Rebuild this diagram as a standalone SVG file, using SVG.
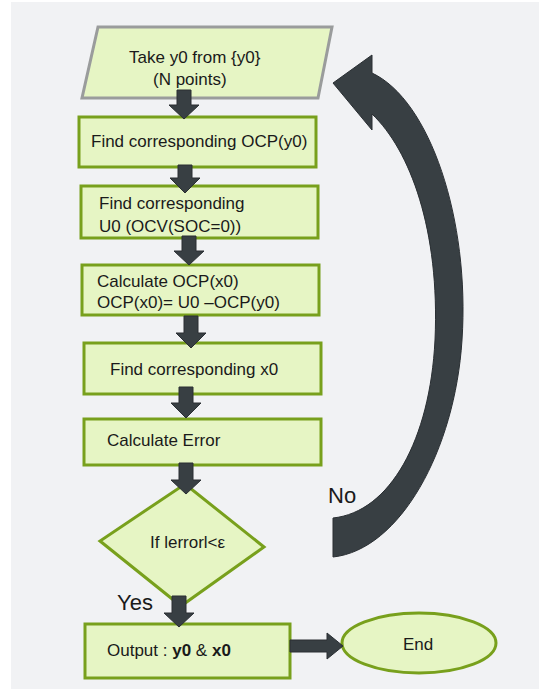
<svg xmlns="http://www.w3.org/2000/svg" width="539" height="689" viewBox="0 0 539 689">
<style>
.node{fill:#e6f5c4;stroke:#78a01c;stroke-width:3}
.io{fill:#e6f5c4;stroke:#9a9c9c;stroke-width:3}
.t{font-family:"Liberation Sans",Arial,sans-serif;font-size:17px;fill:#1a1a1a}
.lbl{font-family:"Liberation Sans",Arial,sans-serif;font-size:22px;fill:#1a1a1a}
.arr{fill:#383f43;stroke:#2a2f33;stroke-width:1;stroke-linejoin:miter}
.b{font-weight:bold}
</style>
<rect x="0" y="0" width="539" height="689" fill="#ffffff"/>
<rect x="11" y="2" width="528" height="687" fill="#f1f2f4"/>
<g id="start">
<polygon class="io" points="98,27 332,27 318,98 82,98"/>
<text class="t" x="129" y="63">Take y0 from {y0}</text>
<text class="t" x="153" y="85">(N points)</text>
</g>
<g id="find-ocp-y0">
<rect class="node" x="79" y="117" width="237" height="50"/>
<text class="t" x="91" y="147">Find corresponding OCP(y0)</text>
</g>
<g id="find-u0">
<rect class="node" x="81" y="186" width="237" height="52"/>
<text class="t" x="99" y="209">Find corresponding</text>
<text class="t" x="99" y="232">U0 (OCV(SOC=0))</text>
</g>
<g id="calc-ocp-x0">
<rect class="node" x="82" y="265" width="237" height="50"/>
<text class="t" x="97" y="287">Calculate OCP(x0)</text>
<text class="t" x="97" y="308">OCP(x0)= U0 –OCP(y0)</text>
</g>
<g id="find-x0">
<rect class="node" x="84" y="343" width="237" height="51"/>
<text class="t" x="110" y="375">Find corresponding x0</text>
</g>
<g id="calc-error">
<rect class="node" x="84" y="419" width="237" height="46"/>
<text class="t" x="107" y="446">Calculate Error</text>
</g>
<g id="decision">
<polygon class="node" points="185,484 264,547 181,606 100,541"/>
<text class="t" x="150" y="548">If lerrorl&lt;ε</text>
</g>
<g id="output">
<rect class="node" x="85" y="624" width="205" height="54"/>
<text class="t" x="107" y="656">Output : <tspan class="b">y0</tspan> &amp; <tspan class="b">x0</tspan></text>
</g>
<g id="end">
<ellipse class="node" cx="419" cy="643" rx="77" ry="30"/>
<text class="t" x="418" y="650" text-anchor="middle">End</text>
</g>
<g id="connectors">
<path class="arr" d="M177,90 H191 V105 H199 L184,119 L169,105 H177 Z"/>
<path class="arr" d="M178,165 H192 V178 H200 L185,193 L170,178 H178 Z"/>
<path class="arr" d="M182,236 H196 V251 H204 L189,265 L174,251 H182 Z"/>
<path class="arr" d="M184,316 H198 V333 H206 L191,348 L176,333 H184 Z"/>
<path class="arr" d="M179,387 H193 V403 H201 L186,418 L171,403 H179 Z"/>
<path class="arr" d="M179,463 H193 V480 H201 L186,494 L171,480 H179 Z"/>
<path class="arr" d="M172,596 H186 V613 H194 L179,627 L164,613 H172 Z"/>
<path class="arr" d="M290,640 V652 H327 V659 L343,646 L327,633 V640 Z"/>
<path class="arr" d="M333,83 L372,55 L372,73 C430,100 470,220 462,340 C455,450 400,550 333,557 L333,518 C390,512 430,440 435,340 C440,230 410,150 372,114 L372,130 Z"/>
<text class="lbl" x="117" y="610">Yes</text>
<text class="lbl" x="328" y="503">No</text>
</g>
</svg>
